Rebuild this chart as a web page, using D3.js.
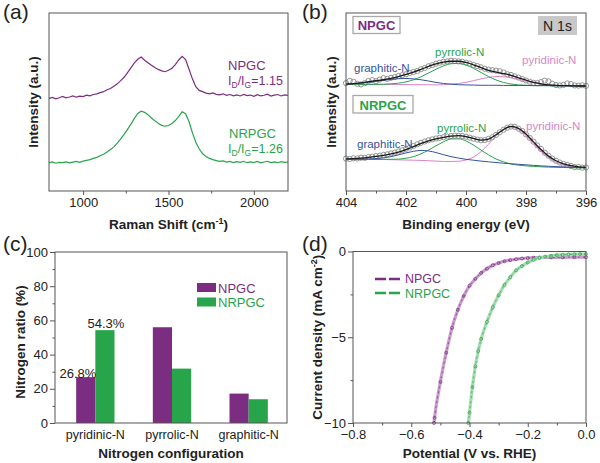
<!DOCTYPE html>
<html><head><meta charset="utf-8">
<script src="https://cdn.jsdelivr.net/npm/d3@7"></script>
<style>
body{margin:0;background:#fff}
svg{font-family:"Liberation Sans",Arial,sans-serif}
</style>
</head><body>
<svg id="fig" width="600" height="463"></svg>
<script>
// ---------- (a) Raman ----------
const ramanShift = [800,820,840,860,880,900,920,940,960,980,1000,1020,1040,1060,1080,1100,1120,1140,1160,1180,1200,1220,1240,1260,1280,1300,1320,1340,1360,1380,1400,1420,1440,1460,1480,1500,1520,1540,1560,1580,1600,1620,1640,1660,1680,1700,1720,1740,1760,1780,1800,1820,1840,1860,1880,1900,1920,1940,1960,1980,2000,2020,2040,2060,2080,2100,2120,2140,2160,2180,2200];
const ramanNPGC = [52.0,52.6,51.8,52.4,53.1,52.3,52.8,53.4,52.7,53.3,53.0,53.8,53.5,54.2,54.6,55.3,55.8,56.9,57.6,58.9,60.2,62.0,63.9,66.5,69.2,72.0,74.0,75.3,73.5,72.1,70.6,69.4,68.3,67.5,67.0,67.8,69.0,71.0,73.6,75.6,73.8,68.5,63.0,58.6,56.5,55.8,55.0,54.6,55.1,54.3,54.0,54.6,53.7,54.2,53.5,54.0,53.4,54.3,53.6,53.9,53.2,54.1,53.5,53.8,54.4,53.3,53.9,54.2,53.4,54.0,53.7];
const ramanNRPGC = [15.8,16.3,15.6,16.1,15.9,16.4,15.8,16.2,16.6,16.1,16.8,17.2,17.6,18.3,18.9,19.8,20.6,21.9,23.3,24.8,26.9,29.3,31.8,34.6,37.6,40.8,43.6,44.8,44.2,42.9,41.0,39.4,38.1,36.9,36.4,36.8,37.9,39.6,41.9,44.5,43.4,39.0,32.8,27.4,23.6,20.9,19.4,18.3,17.6,17.1,16.6,16.9,16.2,16.6,16.0,16.5,16.1,16.7,15.9,16.4,16.0,16.6,15.8,16.3,16.7,16.0,16.4,15.9,16.5,16.1,16.3];
const ramanTicks = [1000,1500,2000];
const ramanMinor = [1250,1750];

// ---------- (b) XPS N 1s ----------
const beGrid = [404,403.75,403.5,403.25,403,402.75,402.5,402.25,402,401.75,401.5,401.25,401,400.75,400.5,400.25,400,399.75,399.5,399.25,399,398.75,398.5,398.25,398,397.75,397.5,397.25,397,396.75,396.5,396.25,396];
const npgcEnvelope = [60.0,60.3,60.8,61.4,62.0,62.5,63.3,64.3,65.5,66.8,68.3,70.0,71.4,72.4,72.9,72.9,72.2,70.9,69.3,67.8,66.8,66.0,65.0,63.5,62.3,61.0,60.2,59.6,59.3,59.2,59.1,59.0,59.0];
const npgcGraphitic = [60.1,60.3,60.6,61.0,61.6,62.2,62.7,63.1,63.2,63.0,62.5,61.8,61.0,60.4,60.0,59.7,59.6,59.5,59.4,59.4,59.4,59.3,59.3,59.3,59.3,59.2,59.2,59.2,59.1,59.1,59.1,59.0,59.0];
const npgcPyrrolic = [60.0,60.0,59.9,59.9,59.9,60.0,60.2,60.6,61.3,62.5,64.2,66.3,68.4,70.3,71.5,71.7,70.8,68.9,66.6,64.3,62.4,61.0,60.1,59.6,59.4,59.2,59.2,59.2,59.1,59.1,59.1,59.0,59.0];
const npgcPyridinic = [60.0,60.0,59.9,59.9,59.9,59.8,59.8,59.8,59.8,59.7,59.7,59.7,59.6,59.7,60.1,60.4,61.0,62.0,63.0,63.8,64.3,64.2,63.6,62.7,61.7,60.7,60.0,59.6,59.3,59.2,59.1,59.0,59.0];
const nrpgcEnvelope = [18.0,18.2,18.5,18.9,19.4,20.0,20.8,21.9,23.3,24.9,26.7,28.2,29.3,30.1,30.8,31.1,30.6,29.5,28.6,29.2,31.6,34.5,36.3,35.2,32.0,27.6,23.3,19.6,17.0,15.3,14.2,13.6,13.3];
const nrpgcGraphitic = [17.9,17.9,17.9,18.0,18.2,18.6,19.3,20.3,21.4,22.3,22.8,22.5,21.6,20.4,19.3,18.5,17.8,17.3,16.8,16.4,16.0,15.6,15.3,15.0,14.7,14.4,14.1,13.9,13.7,13.5,13.3,13.2,13.1];
const nrpgcPyrrolic = [17.9,17.9,17.8,17.8,17.7,17.8,17.8,17.9,18.4,19.3,20.9,23.0,25.4,27.6,29.2,29.3,28.1,25.8,23.0,20.3,18.0,16.4,15.2,14.5,14.1,13.8,13.6,13.4,13.3,13.2,13.1,13.0,13.0];
const nrpgcPyridinic = [17.9,17.9,17.8,17.8,17.7,17.7,17.6,17.5,17.4,17.3,17.2,17.0,16.8,16.6,16.6,16.7,17.4,19.1,22.1,26.3,31.0,34.7,35.9,34.4,31.1,26.8,22.4,18.7,16.2,14.6,13.7,13.2,13.1];
const beData = [404,403.875,403.75,403.625,403.5,403.375,403.25,403.125,403,402.875,402.75,402.625,402.5,402.375,402.25,402.125,402,401.875,401.75,401.625,401.5,401.375,401.25,401.125,401,400.875,400.75,400.625,400.5,400.375,400.25,400.125,400,399.875,399.75,399.625,399.5,399.375,399.25,399.125,399,398.875,398.75,398.625,398.5,398.375,398.25,398.125,398,397.875,397.75,397.625,397.5,397.375,397.25,397.125,397,396.875,396.75,396.625,396.5,396.375,396.25,396.125,396];
const npgcData = [60.6,61.9,61.4,60.2,59.9,60.6,61.8,62.3,61.7,62.6,63.4,63.0,63.6,64.0,64.6,65.1,65.6,66.3,66.9,67.4,68.4,69.1,70.1,70.7,71.5,72.1,72.6,72.8,73.2,73.0,72.8,72.6,72.1,71.6,70.8,70.2,69.5,68.7,68.2,67.9,67.6,67.3,66.6,65.6,65.2,64.4,63.7,62.9,62.1,61.4,60.8,60.6,61.2,62.0,61.6,60.3,59.5,59.3,59.6,60.4,60.1,59.3,59.2,59.4,59.1];
const nrpgcData = [18.2,18.0,18.4,18.3,18.7,18.6,19.1,19.3,19.6,19.9,20.3,20.6,21.1,21.6,22.2,22.9,23.7,24.4,25.3,26.2,27.1,27.8,28.5,29.0,29.5,29.9,30.2,30.6,30.9,31.1,31.0,30.9,30.5,30.0,29.4,28.9,28.5,28.6,29.3,30.2,31.5,33.0,34.4,35.6,36.2,36.0,35.0,33.7,31.8,29.8,27.7,25.6,23.6,21.5,19.8,18.2,17.0,16.0,15.2,14.6,14.1,13.4,13.5,13.1,13.2];
const beTicks = [404,402,400,398,396];
const beMinor = [403,401,399,397];

// ---------- (c) nitrogen configuration ----------
const configurations = ["pyridinic-N","pyrrolic-N","graphitic-N"];
const ratioNPGC = [26.8,56.0,17.2];
const ratioNRPGC = [54.3,31.8,13.9];
const ratioTicks = [0,20,40,60,80,100];
const ratioMinor = [10,30,50,70,90];

// ---------- (d) LSV ----------
const potentialNPGC = [-0.522,-0.52,-0.50,-0.48,-0.46,-0.44,-0.42,-0.40,-0.38,-0.36,-0.34,-0.32,-0.30,-0.28,-0.26,-0.24,-0.22,-0.20,-0.18,-0.16,-0.12,-0.08,-0.04,0.0];
const currentNPGC = [-10.0,-9.7,-7.6,-5.9,-4.45,-3.4,-2.6,-2.0,-1.6,-1.25,-1.0,-0.8,-0.67,-0.57,-0.50,-0.45,-0.41,-0.38,-0.36,-0.35,-0.34,-0.34,-0.33,-0.33];
const potentialNRPGC = [-0.404,-0.40,-0.39,-0.38,-0.37,-0.36,-0.34,-0.32,-0.30,-0.28,-0.26,-0.24,-0.22,-0.20,-0.18,-0.16,-0.14,-0.12,-0.10,-0.08,-0.06,-0.04,-0.02,0.0];
const currentNRPGC = [-10.0,-9.4,-7.9,-6.7,-5.8,-5.1,-4.1,-3.25,-2.55,-1.95,-1.5,-1.1,-0.85,-0.64,-0.48,-0.37,-0.30,-0.25,-0.21,-0.19,-0.17,-0.16,-0.15,-0.15];
const potentialTicks = [-0.8,-0.6,-0.4,-0.2,0.0];
const potentialMinor = [-0.7,-0.5,-0.3,-0.1];
const currentTicks = [0,-5,-10];
const currentMinor = [-2.5,-7.5];

// ---------- styling ----------
const PURPLE = "#7b2d82", GREEN = "#28a44b", BLUE = "#34539f", PINK = "#d884c6";
const AXIS = "#555", TXT = "#222";
const svg = d3.select("#fig");

function frame(x0, y0, x1, y1) {
  svg.append("rect").attr("x", x0).attr("y", y0).attr("width", x1 - x0).attr("height", y1 - y0)
    .attr("fill", "none").attr("stroke", AXIS).attr("stroke-width", 1);
}
function styleAxis(g, fs) {
  g.select(".domain").remove();
  g.selectAll(".tick line").attr("stroke", AXIS).attr("stroke-width", 1);
  g.selectAll(".tick text").attr("fill", TXT).style("font-size", fs + "px").style("font-family", '"Liberation Sans",Arial,sans-serif');
}
function xAxis(scale, y, ticks, minor, fmt) {
  const g = svg.append("g").attr("transform", `translate(0,${y})`)
    .call(d3.axisBottom(scale).tickValues(ticks).tickSize(4).tickPadding(3).tickFormat(fmt));
  styleAxis(g, 13);
  const m = svg.append("g").attr("transform", `translate(0,${y})`)
    .call(d3.axisBottom(scale).tickValues(minor).tickSize(2.5).tickFormat(""));
  styleAxis(m, 13);
}
function yAxis(scale, x, ticks, minor, fmt) {
  const g = svg.append("g").attr("transform", `translate(${x},0)`)
    .call(d3.axisLeft(scale).tickValues(ticks).tickSize(5).tickPadding(2).tickFormat(fmt));
  styleAxis(g, 13);
  const m = svg.append("g").attr("transform", `translate(${x},0)`)
    .call(d3.axisLeft(scale).tickValues(minor).tickSize(2.5).tickFormat(""));
  styleAxis(m, 13);
}
function text(x, y, str, opts = {}) {
  return svg.append("text").attr("x", x).attr("y", y).text(str)
    .attr("fill", opts.fill || TXT).style("font-size", (opts.fs || 13) + "px")
    .style("font-weight", opts.bold ? "bold" : "normal")
    .attr("text-anchor", opts.anchor || "start");
}
function yTitle(cx, cy, build, fs) {
  const t = svg.append("text").attr("transform", `translate(${cx + fs * 0.35},${cy}) rotate(-90)`)
    .attr("text-anchor", "middle").attr("fill", TXT).style("font-size", fs + "px").style("font-weight", "bold");
  build(t);
}
function zip(xs, ys) { return xs.map((x, i) => [x, ys[i]]); }

// ================= (a) =================
const aL = 49, aR = 288, aT = 13, aB = 191;
const xA = d3.scaleLinear().domain([800, 2200]).range([aL, aR]);
const yA = d3.scaleLinear().domain([0, 100]).range([aB, aT]);
const lineA = d3.line().x(d => xA(d[0])).y(d => yA(d[1]));
svg.append("path").datum(zip(ramanShift, ramanNPGC)).attr("d", lineA)
  .attr("fill", "none").attr("stroke", PURPLE).attr("stroke-width", 1.2);
svg.append("path").datum(zip(ramanShift, ramanNRPGC)).attr("d", lineA)
  .attr("fill", "none").attr("stroke", GREEN).attr("stroke-width", 1.2);
frame(aL, aT, aR, aB);
xAxis(xA, aB, ramanTicks, ramanMinor, d3.format("d"));
text(3, 19, "(a)", {fs: 21});
text(228, 69.7, "NPGC", {fill: PURPLE, fs: 13});
function idig(x, y, val, color) {
  const t = svg.append("text").attr("x", x).attr("y", y).attr("fill", color).style("font-size", "12.5px");
  t.append("tspan").text("I");
  t.append("tspan").text("D").attr("dy", 3).style("font-size", "8.5px");
  t.append("tspan").text("/I").attr("dy", -3);
  t.append("tspan").text("G").attr("dy", 3).style("font-size", "8.5px");
  t.append("tspan").text("=" + val).attr("dy", -3);
}
idig(228, 84.5, "1.15", PURPLE);
text(229, 137.7, "NRPGC", {fill: GREEN, fs: 13});
idig(228, 152.5, "1.26", GREEN);
text((aL + aR) / 2, 229, "", {fs: 13.5, bold: true, anchor: "middle"})
  .call(t => { t.append("tspan").text("Raman Shift (cm"); t.append("tspan").text("-1").attr("dy", -5).style("font-size", "9px"); t.append("tspan").text(")").attr("dy", 5); });
yTitle(33, (aT + aB) / 2, t => t.text("Intensity (a.u.)"), 13.5);

// ================= (b) =================
const bL = 346, bR = 586, bT = 13, bB = 191;
const xB = d3.scaleLinear().domain([404, 396]).range([bL, bR]);
const yB = d3.scaleLinear().domain([0, 100]).range([bB, bT]);
const lineB = d3.line().x(d => xB(d[0])).y(d => yB(d[1])).curve(d3.curveMonotoneX);
function xpsGroup(data, env, gr, py, pd) {
  svg.append("g").selectAll("circle").data(zip(beData, data)).join("circle")
    .attr("cx", d => xB(d[0])).attr("cy", d => yB(d[1])).attr("r", 2.6)
    .attr("fill", "none").attr("stroke", "#959595").attr("stroke-width", 1);
  [[pd, PINK], [py, GREEN], [gr, BLUE], [env, "#1a1a1a"]].forEach(([arr, c]) => {
    svg.append("path").datum(zip(beGrid, arr)).attr("d", lineB)
      .attr("fill", "none").attr("stroke", c).attr("stroke-width", c === "#1a1a1a" ? 1.3 : 1);
  });
}
xpsGroup(npgcData, npgcEnvelope, npgcGraphitic, npgcPyrrolic, npgcPyridinic);
xpsGroup(nrpgcData, nrpgcEnvelope, nrpgcGraphitic, nrpgcPyrrolic, nrpgcPyridinic);
frame(bL, bT, bR, bB);
xAxis(xB, bB, beTicks, beMinor, d3.format("d"));
text(302, 19, "(b)", {fs: 21});
svg.append("rect").attr("x", 353).attr("y", 16.5).attr("width", 47).attr("height", 17)
  .attr("fill", "#fff").attr("stroke", "#a8a8a8").attr("stroke-width", 1.3);
text(376.5, 30, "NPGC", {fill: PURPLE, fs: 13, bold: true, anchor: "middle"});
svg.append("rect").attr("x", 353).attr("y", 95.5).attr("width", 60).attr("height", 17.5)
  .attr("fill", "#fff").attr("stroke", "#a8a8a8").attr("stroke-width", 1.3);
text(383, 109.5, "NRPGC", {fill: GREEN, fs: 13, bold: true, anchor: "middle"});
svg.append("rect").attr("x", 538).attr("y", 16).attr("width", 39).attr("height", 19).attr("fill", "#c8c8c8");
text(557.5, 30.5, "N 1s", {fs: 14, anchor: "middle"});
text(354, 71.5, "graphitic-N", {fill: BLUE, fs: 11.5});
text(435, 56, "pyrrolic-N", {fill: GREEN, fs: 11.5});
text(522, 64, "pyridinic-N", {fill: PINK, fs: 11.5});
text(357, 148, "graphitic-N", {fill: BLUE, fs: 11.5});
text(437, 132, "pyrrolic-N", {fill: GREEN, fs: 11.5});
text(526, 130, "pyridinic-N", {fill: PINK, fs: 11.5});
text((bL + bR) / 2, 229, "Binding energy (eV)", {fs: 13.5, bold: true, anchor: "middle"});
yTitle(331, (bT + bB) / 2, t => t.text("Intensity (a.u.)"), 13.5);

// ================= (c) =================
const cL = 55, cR = 287, cT = 252, cB = 423;
const xC = d3.scaleBand().domain(configurations).range([57, 287]).paddingInner(0.5).paddingOuter(0.25);
const xSub = d3.scaleBand().domain(["NPGC", "NRPGC"]).range([0, xC.bandwidth()]);
const yC = d3.scaleLinear().domain([0, 100]).range([cB, cT]);
const barData = configurations.map((c, i) => ({c, vals: [["NPGC", ratioNPGC[i]], ["NRPGC", ratioNRPGC[i]]]}));
const gBars = svg.append("g").selectAll("g").data(barData).join("g").attr("transform", d => `translate(${xC(d.c)},0)`);
gBars.selectAll("rect").data(d => d.vals).join("rect")
  .attr("x", d => xSub(d[0])).attr("width", xSub.bandwidth())
  .attr("y", d => yC(d[1])).attr("height", d => cB - yC(d[1]))
  .attr("fill", d => d[0] === "NPGC" ? PURPLE : GREEN);
frame(cL, cT, cR, cB);
yAxis(yC, cL, ratioTicks, ratioMinor, d3.format("d"));
configurations.forEach(c => text(xC(c) + xC.bandwidth() / 2, 438.5, c, {fs: 12.5, anchor: "middle"}));
text(xC(configurations[0]) + xSub.bandwidth() + 1, yC(ratioNPGC[0]) + 0.5, ratioNPGC[0] + "%", {fs: 13, anchor: "end"});
text(xC(configurations[0]) + xSub("NRPGC") + xSub.bandwidth() / 2 + 1, yC(ratioNRPGC[0]) - 2, ratioNRPGC[0] + "%", {fs: 13, anchor: "middle"});
svg.append("rect").attr("x", 197).attr("y", 283).attr("width", 19).attr("height", 9).attr("fill", PURPLE);
svg.append("rect").attr("x", 197).attr("y", 297.5).attr("width", 19).attr("height", 9).attr("fill", GREEN);
text(218, 292.5, "NPGC", {fill: PURPLE, fs: 13});
text(218, 307, "NRPGC", {fill: GREEN, fs: 13});
text(3, 251, "(c)", {fs: 21});
text((cL + cR) / 2, 457.5, "Nitrogen configuration", {fs: 13.5, bold: true, anchor: "middle"});
yTitle(20, 342, t => t.text("Nitrogen ratio (%)"), 13.5);

// ================= (d) =================
const dL = 353, dR = 586, dT = 251.5, dB = 423;
const xD = d3.scaleLinear().domain([-0.8, 0]).range([dL, dR]);
const yD = d3.scaleLinear().domain([-10, 0]).range([dB, dT]);
const lineD = d3.line().x(d => xD(d[0])).y(d => yD(d[1])).curve(d3.curveMonotoneX);
[[potentialNPGC, currentNPGC, PURPLE, "#c99ccd"], [potentialNRPGC, currentNRPGC, GREEN, "#a6dbb0"]].forEach(([xs, ys, c, light]) => {
  const pts = zip(xs, ys);
  svg.append("path").datum(pts).attr("d", lineD).attr("fill", "none").attr("stroke", light).attr("stroke-width", 3.2);
  svg.append("path").datum(pts).attr("d", lineD).attr("fill", "none").attr("stroke", c).attr("stroke-width", 1).attr("stroke-dasharray", "2,3").attr("opacity", 0.7);
  svg.append("g").selectAll("circle").data(pts).join("circle")
    .attr("cx", d => xD(d[0])).attr("cy", d => yD(d[1])).attr("r", 1.5)
    .attr("fill", "none").attr("stroke", c).attr("stroke-width", 0.7);
});
frame(dL, dT, dR, dB);
xAxis(xD, dB, potentialTicks, potentialMinor, d3.format(".1f"));
yAxis(yD, dL, currentTicks, currentMinor, d3.format("d"));
svg.append("line").attr("x1", 375).attr("x2", 402).attr("y1", 279).attr("y2", 279).attr("stroke", PURPLE).attr("stroke-width", 2.5).attr("stroke-dasharray", "11,3");
svg.append("line").attr("x1", 375).attr("x2", 402).attr("y1", 293).attr("y2", 293).attr("stroke", GREEN).attr("stroke-width", 2.5).attr("stroke-dasharray", "11,3");
text(405, 283.2, "NPGC", {fill: PURPLE, fs: 12.5});
text(405, 297.5, "NRPGC", {fill: GREEN, fs: 12.5});
text(302, 251, "(d)", {fs: 21});
text((dL + dR) / 2, 457.5, "Potential (V vs. RHE)", {fs: 13.5, bold: true, anchor: "middle"});
yTitle(317, (dT + dB) / 2, t => { t.append("tspan").text("Current density (mA cm"); t.append("tspan").text("-2").attr("dy", -5).style("font-size", "9px"); t.append("tspan").text(")").attr("dy", 5); }, 13.5);
</script>
</body></html>
